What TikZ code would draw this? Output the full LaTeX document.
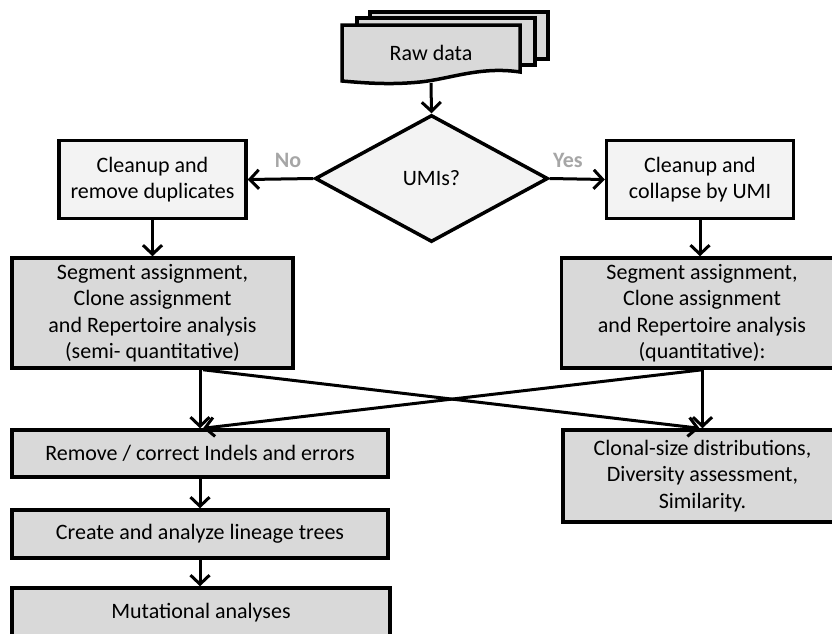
\documentclass[tikz,border=0pt]{standalone}
\usepackage{fontspec}
\setmainfont{Carlito}
\usetikzlibrary{arrows.meta,shapes.geometric}
\definecolor{boxgray}{RGB}{217,217,217}
\definecolor{paleface}{RGB}{243,243,243}
\definecolor{answergray}{RGB}{166,166,166}

\begin{document}
\begin{tikzpicture}[x=1pt, y=-1pt,
    stagebox/.style={draw, line width=3.5pt, fill=boxgray, align=center, inner sep=0pt,
        font=\fontsize{22}{26.5}\selectfont},
    palebox/.style={stagebox, fill=paleface},
    flow/.style={line width=3pt, -{Straight Barb[length=9pt,width=19pt,line width=3pt]}},
    answer/.style={font=\fontsize{22}{26}\selectfont\bfseries, text=answergray}]
    \useasboundingbox (0,0) rectangle (832,633);

    % Raw data - stack of sheets
    \foreach \dx/\dy in {28/-13, 15/-7} {
        \draw[line width=3.5pt, fill=boxgray] (342+\dx,25+\dy) rectangle (520+\dx,72+\dy);
    }
    \draw[line width=3.5pt, fill=boxgray] (342,25) -- (520,25) -- (520,72)
        .. controls (480,66) and (450,79) .. (420,82)
        .. controls (390,85) and (365,83) .. (342,81) -- cycle;
    \node[font=\fontsize{22}{26}\selectfont] (raw) at (431,53) {Raw data};
    \coordinate (rawfoot) at (431,83);

    % Decision
    \node[draw, diamond, line width=3.5pt, fill=paleface, inner sep=0pt,
        minimum width=233pt, minimum height=127pt, aspect=1.83,
        font=\fontsize{22}{26}\selectfont] (umi) at (431.5,178.5) {UMIs?};

    % Cleanup steps
    \node[palebox, minimum width=187pt, minimum height=78pt] (cleanNo) at (152.5,179.5)
        {Cleanup and\\remove duplicates};
    \node[palebox, minimum width=187pt, minimum height=78pt] (cleanYes) at (700,179.5)
        {Cleanup and\\collapse by UMI};

    % Assignment and repertoire analysis
    \node[stagebox, minimum width=281pt, minimum height=110pt] (segNo) at (152.5,313)
        {Segment assignment,\\Clone assignment\\and Repertoire analysis\\(semi- quantitative)};
    \node[stagebox, minimum width=281pt, minimum height=110pt] (segYes) at (702,313)
        {Segment assignment,\\Clone assignment\\and Repertoire analysis\\(quantitative):};

    % Downstream steps
    \node[stagebox, minimum width=376pt, minimum height=47pt] (indels) at (200,453.5)
        {Remove / correct Indels and errors};
    \node[stagebox, minimum width=376pt, minimum height=48pt] (trees) at (200,534)
        {Create and analyze lineage trees};
    \node[stagebox, minimum width=378pt, minimum height=50pt] (mutations) at (201,613)
        {Mutational analyses};
    \node[stagebox, minimum width=279pt, minimum height=92pt] (clonal) at (702.5,476)
        {Clonal-size distributions,\\Diversity assessment,\\Similarity.};

    % Answers
    \node[answer] (no) at (288,160) {No};
    \node[answer] (yes) at (568,160) {Yes};

    % Connectors
    \draw[flow] (rawfoot) -- (umi.north);
    \draw[flow] (umi.west) -- (cleanNo.east);
    \draw[flow] (umi.east) -- (cleanYes.west);
    \draw[flow] (cleanNo.south) -- (segNo.north);
    \draw[flow] (cleanYes.south) -- (cleanYes.south |- segYes.north);
    \draw[flow] (segNo.south -| indels.north) -- (indels.north);
    \draw[flow] (segYes.south -| clonal.north) -- (clonal.north);
    \draw[flow] ([xshift=3pt]segNo.south -| indels.north) -- ([xshift=-3pt]clonal.north);
    \draw[flow] (segYes.south -| clonal.north) -- ([xshift=3pt]indels.north);
    \draw[flow] (trees.north |- indels.south) -- (trees.north);
    \draw[flow] (trees.south) -- (trees.south |- mutations.north);
\end{tikzpicture}
\end{document}
